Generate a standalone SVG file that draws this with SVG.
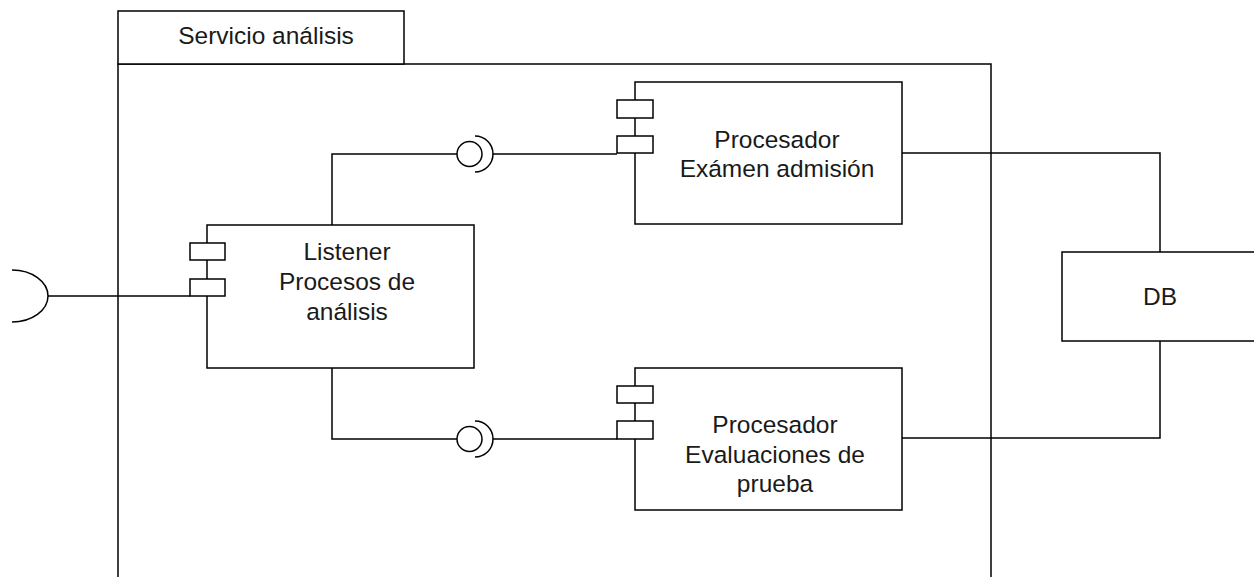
<svg xmlns="http://www.w3.org/2000/svg" width="1254" height="577" viewBox="0 0 1254 577">
<style>
.s{fill:#fff;stroke:#000;stroke-width:1.5}
.l{fill:none;stroke:#000;stroke-width:1.5}
text{font-family:"Liberation Sans",Arial,sans-serif;font-size:24.5px;fill:#1a1a1a;text-anchor:middle}
</style>
<rect width="1254" height="577" fill="#fff"/>
<g id="package">
<rect class="s" x="118" y="64" width="873" height="530"/>
<rect class="s" x="118" y="11" width="286" height="53"/>
<text x="266" y="44">Servicio análisis</text>
</g>
<g id="connectors">
<path class="l" d="M48,296 H190"/>
<path class="l" d="M12,270 A36,26 0 0 1 12,322"/>
<path class="l" d="M332,225 V154 H457"/>
<circle class="l" cx="469.5" cy="154" r="12.5"/>
<path class="l" d="M475,136 A18,18 0 0 1 475,172"/>
<path class="l" d="M493,154 H617"/>
<path class="l" d="M332,368 V439 H457"/>
<circle class="l" cx="469.5" cy="439" r="12.5"/>
<path class="l" d="M475,421 A18,18 0 0 1 475,457"/>
<path class="l" d="M493,439 H617"/>
<path class="l" d="M902,153 H1160 V252"/>
<path class="l" d="M902,438 H1160 V341"/>
</g>
<g id="listener">
<rect class="s" x="207" y="225" width="267" height="143"/>
<rect class="s" x="190" y="243" width="35" height="17"/>
<rect class="s" x="190" y="279" width="35" height="17"/>
<text x="347" y="260">Listener</text>
<text x="347" y="290">Procesos de</text>
<text x="347" y="320">análisis</text>
</g>
<g id="procesador-examen">
<rect class="s" x="635" y="82" width="267" height="142"/>
<rect class="s" x="617" y="100" width="36" height="18"/>
<rect class="s" x="617" y="136" width="36" height="17"/>
<text x="777" y="148">Procesador</text>
<text x="777" y="177">Exámen admisión</text>
</g>
<g id="procesador-evaluaciones">
<rect class="s" x="635" y="368" width="267" height="142"/>
<rect class="s" x="617" y="386" width="36" height="17"/>
<rect class="s" x="617" y="421" width="36" height="18"/>
<text x="775" y="433">Procesador</text>
<text x="775" y="463">Evaluaciones de</text>
<text x="775" y="492">prueba</text>
</g>
<g id="db">
<rect class="s" x="1062" y="252" width="200" height="89"/>
<text x="1160" y="305">DB</text>
</g>
</svg>
